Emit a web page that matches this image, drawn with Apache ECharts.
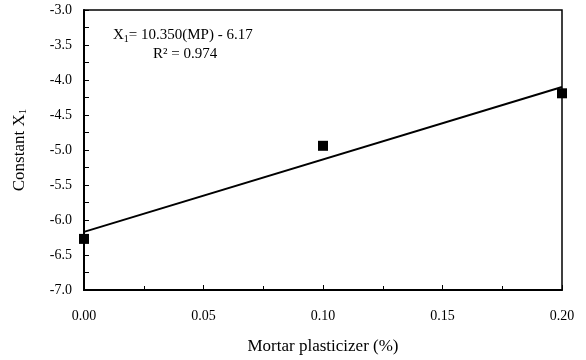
<!DOCTYPE html>
<html>
<head>
<meta charset="utf-8">
<script src="https://cdn.jsdelivr.net/npm/echarts@6/dist/echarts.min.js"></script>
<style>
html, body { margin: 0; padding: 0; background: #fff; }
#main { width: 586px; height: 360px; }
</style>
</head>
<body>
<div id="main"></div>
<script>
// measured points
var plasticizer = [0.00, 0.10, 0.20];
var constantX1 = [-6.27, -4.94, -4.19];
// fitted line end points, X1 = 10.350(MP) - 6.17
var fitX = [0.00, 0.20];
var fitY = [-6.17, -4.10];

var serif = '"Liberation Serif", "Times New Roman", serif';

var pts = [];
for (var i = 0; i < plasticizer.length; i++) {
	pts.push([plasticizer[i], constantX1[i]]);
}
var fit = [];
for (var j = 0; j < fitX.length; j++) {
	fit.push([fitX[j], fitY[j]]);
}

var myChart = echarts.init(document.getElementById('main'));
var option = {
	animation: false,
	backgroundColor: '#fff',
	grid: {
		left: 84,
		top: 10,
		right: 24,
		bottom: 70,
		containLabel: false,
		outerBoundsMode: 'none',
		show: true,
		borderColor: '#000',
		borderWidth: 1.5
	},
	xAxis: {
		type: 'value',
		min: 0,
		max: 0.2,
		interval: 0.05,
		name: 'Mortar plasticizer (%)',
		nameLocation: 'middle',
		nameGap: 48,
		nameTextStyle: { fontFamily: serif, fontSize: 17, color: '#000' },
		axisLine: { lineStyle: { color: '#000', width: 2 } },
		axisTick: { inside: true, length: 5, lineStyle: { color: '#000' } },
		minorTick: { show: true, splitNumber: 2, length: 4, lineStyle: { color: '#000' } },
		axisLabel: {
			fontFamily: serif, fontSize: 14, color: '#000', margin: 19,
			formatter: function(v) { return v.toFixed(2); }
		},
		splitLine: { show: false }
	},
	yAxis: {
		type: 'value',
		min: -7,
		max: -3,
		interval: 0.5,
		name: 'Constant X{sub|1}',
		nameLocation: 'middle',
		nameGap: 55,
		nameTextStyle: {
			fontFamily: serif, fontSize: 17, color: '#000',
			rich: { sub: { fontFamily: serif, fontSize: 11, color: '#000', padding: [7, 0, 0, 0] } }
		},
		axisLine: { onZero: false, lineStyle: { color: '#000', width: 2 } },
		axisTick: { inside: true, length: 5, lineStyle: { color: '#000' } },
		minorTick: { show: true, splitNumber: 2, length: 5, lineStyle: { color: '#000' } },
		axisLabel: {
			fontFamily: serif, fontSize: 14, color: '#000', margin: 12,
			formatter: function(v) { return v.toFixed(1); }
		},
		splitLine: { show: false }
	},
	series: [{
		name: 'fit',
		type: 'line',
		data: fit,
		symbol: 'none',
		lineStyle: { color: '#000', width: 2 },
		z: 2
	}, {
		name: 'data',
		type: 'scatter',
		data: pts,
		symbol: 'rect',
		symbolSize: 10,
		itemStyle: { color: '#000', opacity: 1 },
		z: 3
	}],
	graphic: [{
		type: 'text',
		left: 113,
		top: 28,
		style: {
			text: 'X{sub|1}= 10.350(MP) - 6.17',
			fontFamily: serif,
			fontSize: 15,
			fill: '#000',
			rich: { sub: { fontFamily: serif, fontSize: 10, fill: '#000', padding: [7, 0, 0, 0] } }
		}
	}, {
		type: 'text',
		left: 153,
		top: 47,
		style: {
			text: 'R² = 0.974',
			fontFamily: serif,
			fontSize: 15,
			fill: '#000'
		}
	}]
};
myChart.setOption(option);
</script>
</body>
</html>
